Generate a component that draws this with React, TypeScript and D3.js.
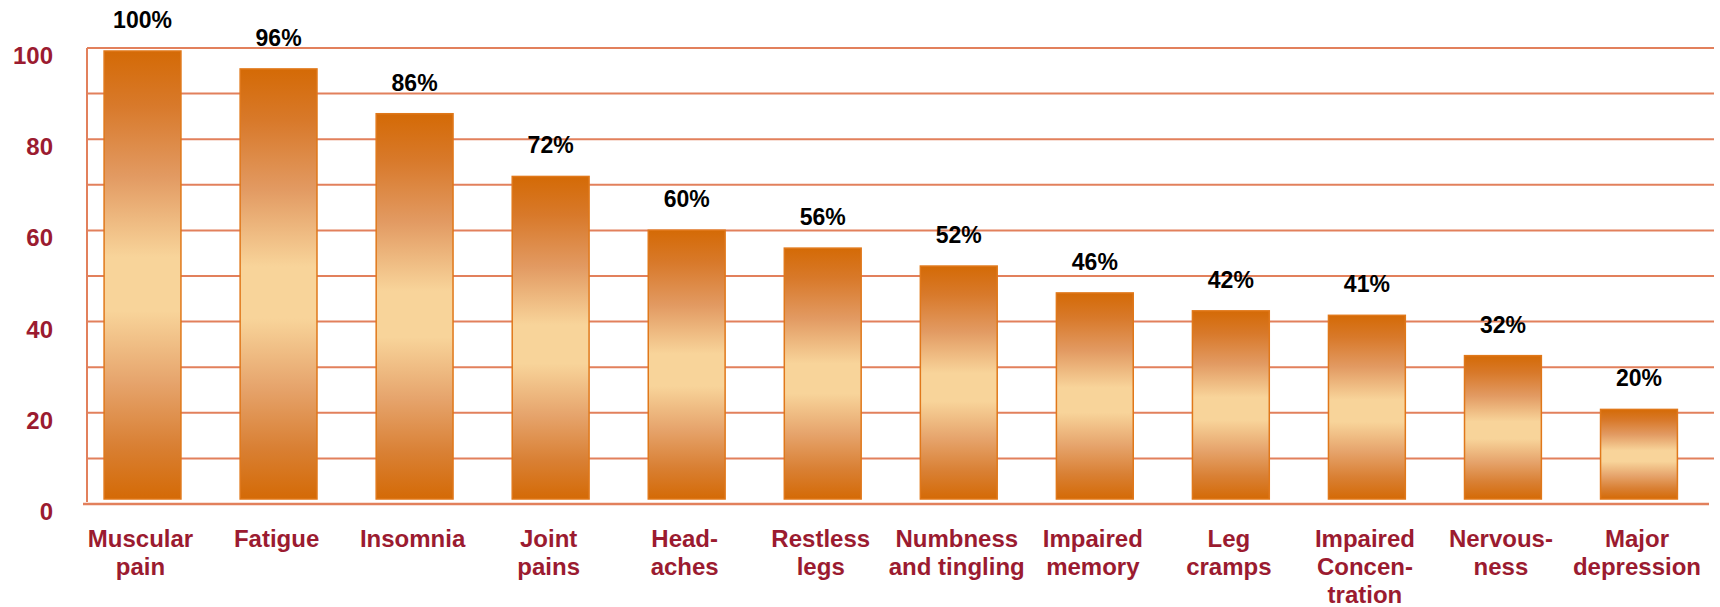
import React from "react";
import * as d3 from "d3";

const categories: string[][] = [
  ["Muscular", "pain"],
  ["Fatigue"],
  ["Insomnia"],
  ["Joint", "pains"],
  ["Head-", "aches"],
  ["Restless", "legs"],
  ["Numbness", "and tingling"],
  ["Impaired", "memory"],
  ["Leg", "cramps"],
  ["Impaired", "Concen-", "tration"],
  ["Nervous-", "ness"],
  ["Major", "depression"],
];
const values: number[] = [100, 96, 86, 72, 60, 56, 52, 46, 42, 41, 32, 20];
const yTickLabels: number[] = [0, 20, 40, 60, 80, 100];
const gridValues: number[] = [10, 20, 30, 40, 50, 60, 70, 80, 90, 100];

const W = 1720;
const H = 607;
const FONT = "'Liberation Sans', Arial, sans-serif";
const LABEL_RED = "#9B1B30";
const GRID = "#E2805C";

export default function App() {
  const ids = categories.map((_, i) => String(i));
  const x = d3.scaleBand<string>().domain(ids).range([74.5, 1707]).paddingInner(0.435).paddingOuter(0.2175);
  const y = d3.scaleLinear().domain([0, 100]).range([504, 48]);
  const yBar = d3.scaleLinear().domain([0, 100]).range([499, 51]);

  return (
    <svg width={W} height={H} style={{ position: "absolute", left: 0, top: 0, background: "#fff" }}>
      <defs>
        <linearGradient id="barGrad" x1="0" y1="0" x2="0" y2="1">
          <stop offset="0" stopColor="#D46A06" />
          <stop offset="0.12" stopColor="#D8792A" />
          <stop offset="0.28" stopColor="#E29A62" />
          <stop offset="0.46" stopColor="#F8D49A" />
          <stop offset="0.58" stopColor="#F8D49A" />
          <stop offset="0.74" stopColor="#E6A46C" />
          <stop offset="0.88" stopColor="#D98034" />
          <stop offset="1" stopColor="#D46A06" />
        </linearGradient>
      </defs>

      {gridValues.map((v) => (
        <line key={"g" + v} x1={87} x2={1714} y1={y(v)} y2={y(v)} stroke={GRID} strokeWidth={2} />
      ))}
      <line x1={87} x2={87} y1={y(100)} y2={502} stroke={GRID} strokeWidth={2} />
      <line x1={83} x2={1709} y1={y(0)} y2={y(0)} stroke={GRID} strokeWidth={2.5} />

      {yTickLabels.map((v) => (
        <text
          key={"yl" + v}
          x={53}
          y={y(v) + 16}
          textAnchor="end"
          fontFamily={FONT}
          fontWeight="bold"
          fontSize={24}
          fill={LABEL_RED}
        >
          {v}
        </text>
      ))}

      {values.map((v, i) => {
        const bx = x(String(i))!;
        const bw = x.bandwidth();
        const top = yBar(v);
        return (
          <g key={"b" + i}>
            <rect
              x={bx}
              y={top}
              width={bw}
              height={yBar(0) - top}
              fill="url(#barGrad)"
              stroke="#E0781A"
              strokeWidth={1.5}
            />
            <text
              x={bx + bw / 2}
              y={top - 23}
              textAnchor="middle"
              fontFamily={FONT}
              fontWeight="bold"
              fontSize={23}
              fill="#000"
            >
              {v}%
            </text>
          </g>
        );
      })}

      {categories.map((lines, i) => {
        const cx = x(String(i))! + x.bandwidth() / 2 - 2;
        return (
          <text
            key={"xl" + i}
            textAnchor="middle"
            fontFamily={FONT}
            fontWeight="bold"
            fontSize={24}
            fill={LABEL_RED}
          >
            {lines.map((l, j) => (
              <tspan key={j} x={cx} y={547 + j * 28}>
                {l}
              </tspan>
            ))}
          </text>
        );
      })}
    </svg>
  );
}
